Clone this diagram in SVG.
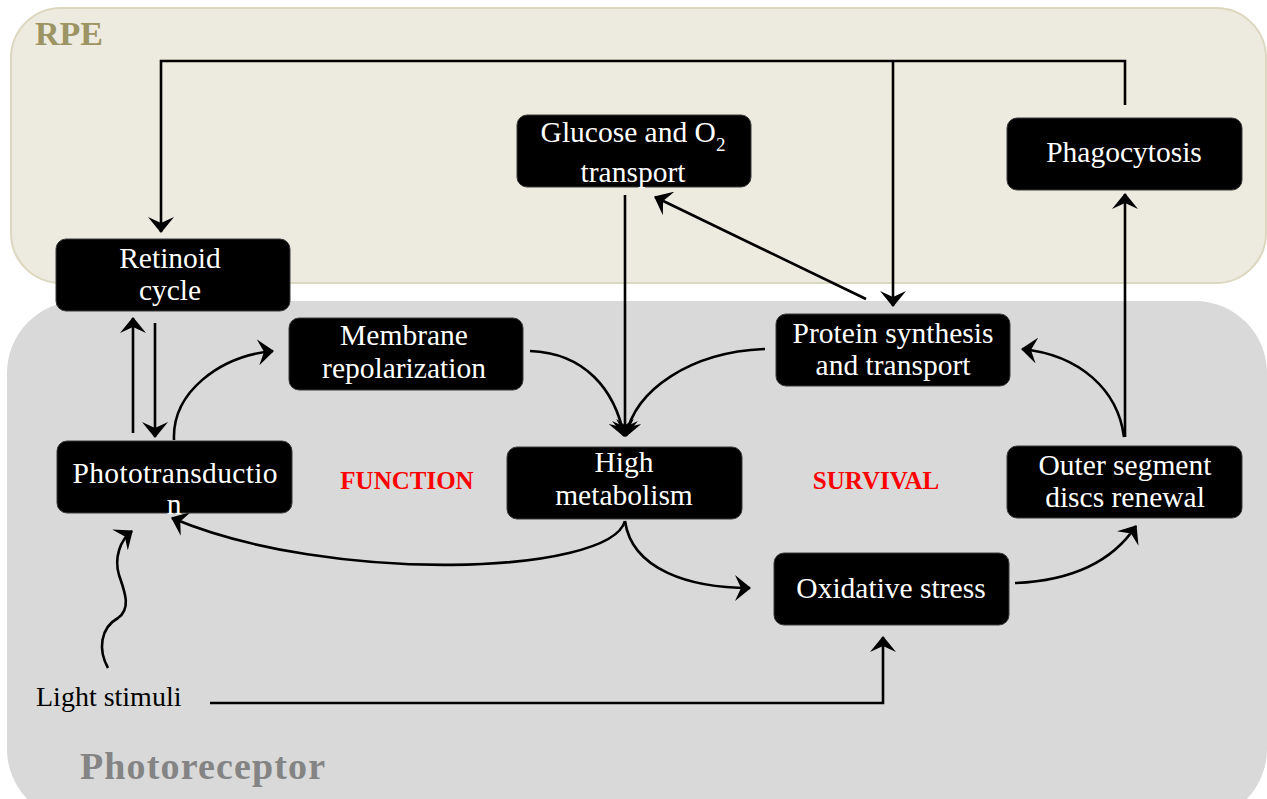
<svg xmlns="http://www.w3.org/2000/svg" width="1267" height="799" viewBox="0 0 1267 799">
<defs>
<style>
.panel-rpe{fill:#EDEAE0;stroke:#DCD7BF;stroke-width:2}
.panel-pr{fill:#D9D9D9}
.box{fill:#000;stroke:#3a3a3a;stroke-width:1}
.nt{font-family:"Liberation Serif",serif;font-size:29.5px;fill:#fff;text-anchor:middle}
.lbl{font-family:"Liberation Serif",serif;font-weight:bold}
.conn{fill:none;stroke:#000;stroke-width:2.6}
</style>
<marker id="ah" viewBox="0 0 16 26" refX="15" refY="13" markerWidth="16" markerHeight="26" markerUnits="userSpaceOnUse" orient="auto">
<path d="M0,0 L16,13 L0,26 L6,13 Z" fill="#000"/>
</marker>
</defs>
<rect width="1267" height="799" fill="#fff"/>
<g id="panel-rpe">
<rect class="panel-rpe" x="11" y="8" width="1255" height="275" rx="50"/>
<text class="lbl" x="35" y="45" font-size="34" fill="#9C9462">RPE</text>
</g>
<g id="panel-photoreceptor">
<rect class="panel-pr" x="7" y="301" width="1260" height="520" rx="72"/>
<text class="lbl" x="80" y="779" font-size="38" fill="#848484" textLength="245" lengthAdjust="spacing">Photoreceptor</text>
</g>
<g id="connectors">
<path class="conn" d="M1125,105 L1125,61 L161,61 L161,232" marker-end="url(#ah)"/>
<path class="conn" d="M893,61 L893,306" marker-end="url(#ah)"/>
<path class="conn" d="M133,433 L133,318" marker-end="url(#ah)"/>
<path class="conn" d="M155,323 L155,437" marker-end="url(#ah)"/>
<path class="conn" d="M174,440 C172,392 220,356 273,351" marker-end="url(#ah)"/>
<path class="conn" d="M530,351 C585,353 615,390 624,436" marker-end="url(#ah)"/>
<path class="conn" d="M765,349 C690,352 635,390 626,436" marker-end="url(#ah)"/>
<path class="conn" d="M625,195 L625,436" marker-end="url(#ah)"/>
<path class="conn" d="M866,299 L655,197" marker-end="url(#ah)"/>
<path class="conn" d="M625,521 C610,575 330,585 172,518" marker-end="url(#ah)"/>
<path class="conn" d="M625,521 C632,570 690,588 750,588" marker-end="url(#ah)"/>
<path class="conn" d="M1015,583 C1065,581 1110,565 1136,526" marker-end="url(#ah)"/>
<path class="conn" d="M1124,437 C1118,390 1080,355 1022,349" marker-end="url(#ah)"/>
<path class="conn" d="M1125,437 L1125,194" marker-end="url(#ah)"/>
<path class="conn" d="M210,703 L883,703 L883,637" marker-end="url(#ah)"/>
<path class="conn" d="M108,668 C98,650 100,628 118,618 C132,608 124,590 119,575 C114,558 120,540 132,531" marker-end="url(#ah)"/>
</g>
<g id="node-retinoid">
<rect class="box" x="56" y="239" width="234" height="72" rx="10"/>
<text class="nt" x="170" y="268">Retinoid</text>
<text class="nt" x="170" y="300">cycle</text>
</g>
<g id="node-membrane">
<rect class="box" x="289" y="318" width="234" height="72" rx="10"/>
<text class="nt" x="404" y="345">Membrane</text>
<text class="nt" x="404" y="378">repolarization</text>
</g>
<g id="node-glucose">
<rect class="box" x="517" y="115" width="234" height="72" rx="10"/>
<text class="nt" x="633" y="142">Glucose and O<tspan font-size="19" dy="9">2</tspan></text>
<text class="nt" x="633" y="182">transport</text>
</g>
<g id="node-phagocytosis">
<rect class="box" x="1007" y="118" width="235" height="72" rx="10"/>
<text class="nt" x="1124" y="162">Phagocytosis</text>
</g>
<g id="node-protein">
<rect class="box" x="776" y="314" width="234" height="72" rx="10"/>
<text class="nt" x="893" y="343">Protein synthesis</text>
<text class="nt" x="893" y="375">and transport</text>
</g>
<g id="node-phototransduction">
<rect class="box" x="57" y="441" width="235" height="72" rx="10"/>
<text class="nt" x="175" y="483" textLength="205" lengthAdjust="spacing">Phototransductio</text>
<text class="nt" x="174" y="514">n</text>
</g>
<g id="node-metabolism">
<rect class="box" x="507" y="447" width="235" height="72" rx="10"/>
<text class="nt" x="624" y="472">High</text>
<text class="nt" x="624" y="505">metabolism</text>
</g>
<g id="node-outer">
<rect class="box" x="1007" y="446" width="235" height="72" rx="10"/>
<text class="nt" x="1125" y="475">Outer segment</text>
<text class="nt" x="1125" y="507">discs renewal</text>
</g>
<g id="node-oxidative">
<rect class="box" x="774" y="553" width="235" height="72" rx="10"/>
<text class="nt" x="891" y="598">Oxidative stress</text>
</g>
<g id="labels">
<text class="lbl" x="407" y="489" font-size="25" fill="#FF0000" text-anchor="middle">FUNCTION</text>
<text class="lbl" x="876" y="489" font-size="25" fill="#FF0000" text-anchor="middle">SURVIVAL</text>
<text x="36" y="706" font-family="Liberation Serif, serif" font-size="28" fill="#000">Light stimuli</text>
</g>
</svg>
